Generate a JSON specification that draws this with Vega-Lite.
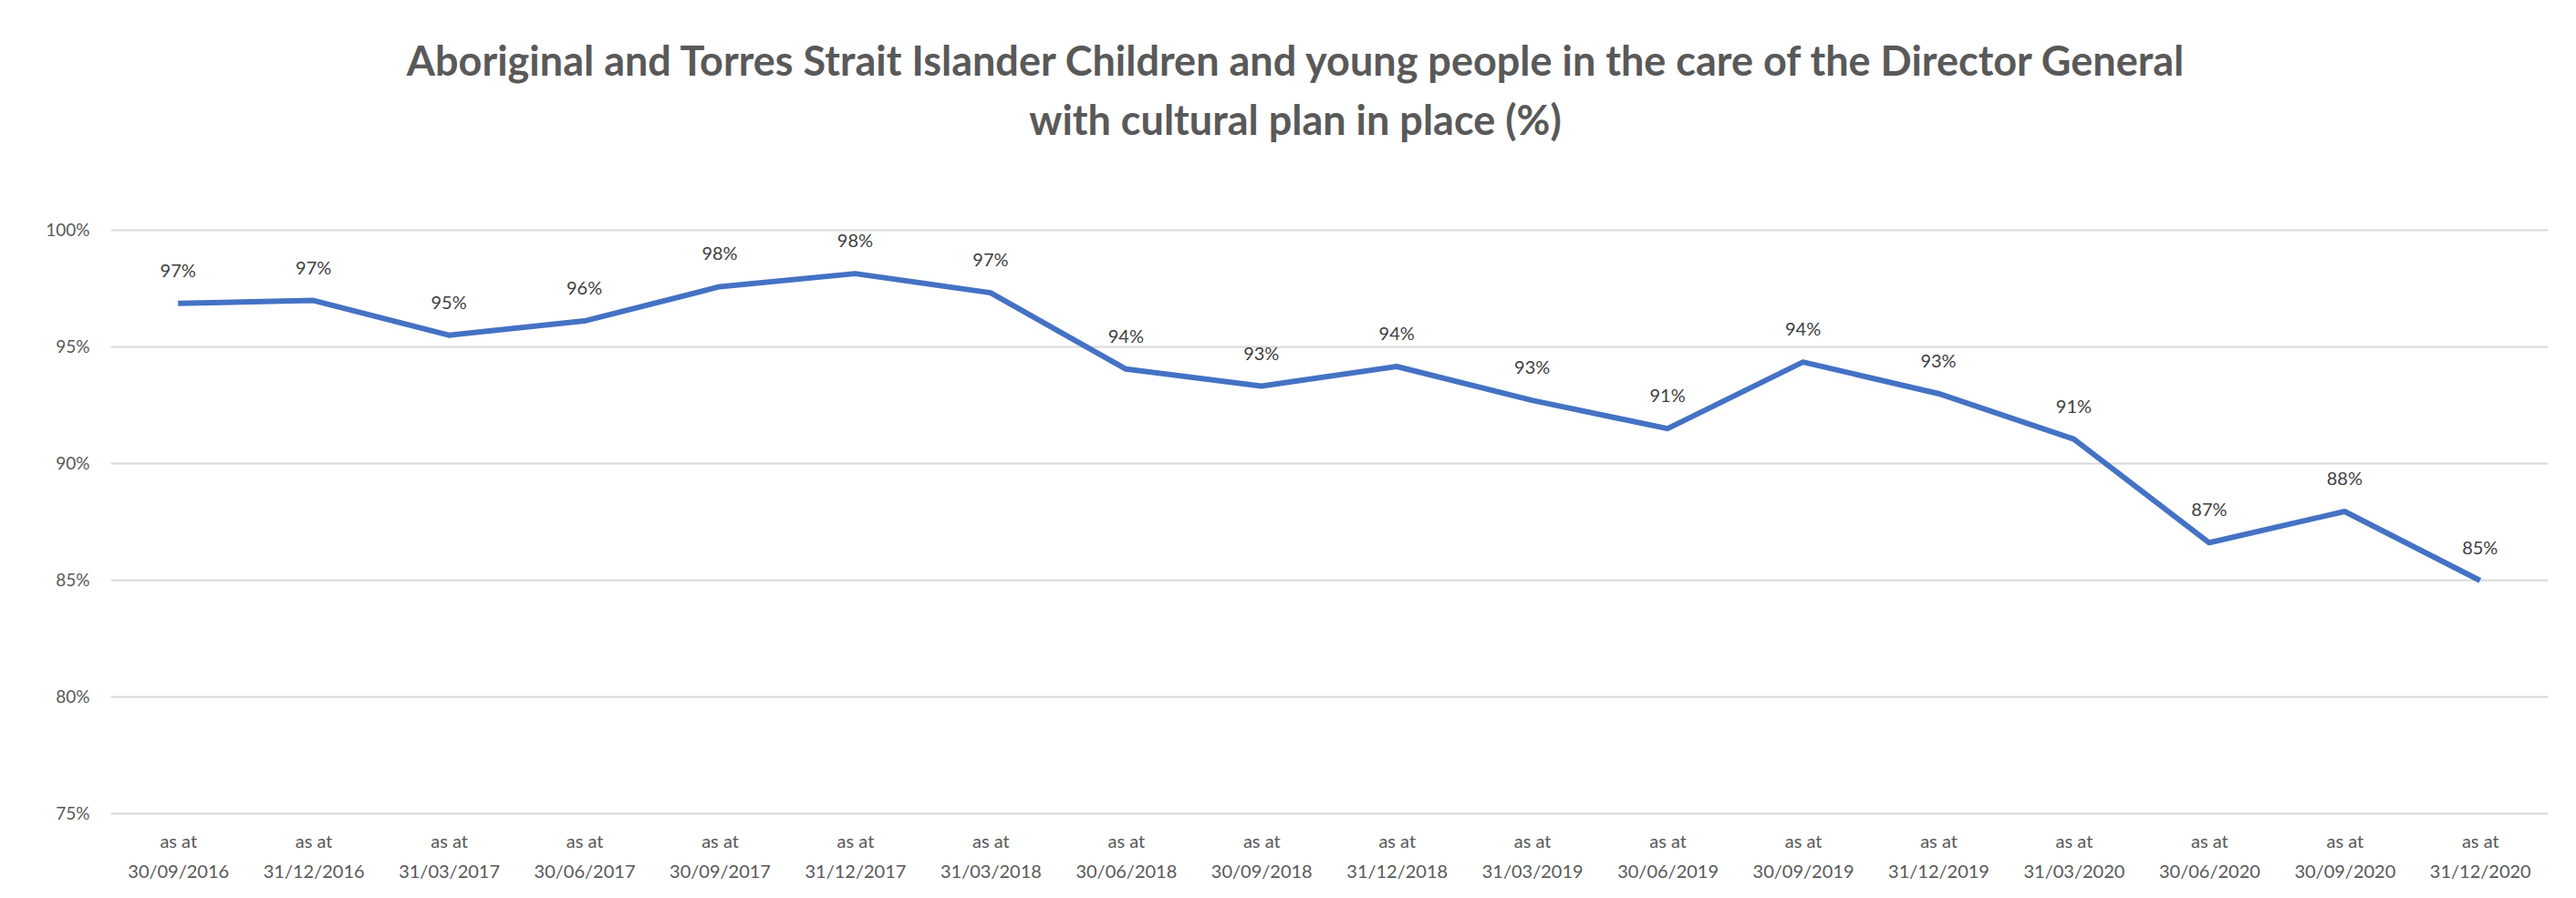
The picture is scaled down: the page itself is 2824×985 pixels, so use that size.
{
  "$schema": "https://vega.github.io/schema/vega-lite/v6.json",
  "width": 2672,
  "height": 640,
  "autosize": {"type": "none"},
  "padding": {"left": 121, "top": 252, "right": 31, "bottom": 93},
  "background": "white",
  "title": {
    "text": ["Aboriginal and Torres Strait Islander Children and young people in the care of the Director General", "with cultural plan in place (%)"],
    "font": "Lato, sans-serif",
    "fontSize": 45,
    "fontWeight": "bold",
    "color": "#595959",
    "lineHeight": 65,
    "anchor": "middle",
    "dx": -37,
    "offset": 86
  },
  "config": {
    "view": {"stroke": null},
    "font": "Lato, sans-serif"
  },
  "data": {
    "values": [
      {"date": "30/09/2016", "value": 0.9685},
      {"date": "31/12/2016", "value": 0.9697},
      {"date": "31/03/2017", "value": 0.9548},
      {"date": "30/06/2017", "value": 0.9609},
      {"date": "30/09/2017", "value": 0.9756},
      {"date": "31/12/2017", "value": 0.9812},
      {"date": "31/03/2018", "value": 0.9730},
      {"date": "30/06/2018", "value": 0.9403},
      {"date": "30/09/2018", "value": 0.9330},
      {"date": "31/12/2018", "value": 0.9414},
      {"date": "31/03/2019", "value": 0.9269},
      {"date": "30/06/2019", "value": 0.9148},
      {"date": "30/09/2019", "value": 0.9433},
      {"date": "31/12/2019", "value": 0.9298},
      {"date": "31/03/2020", "value": 0.9103},
      {"date": "30/06/2020", "value": 0.8659},
      {"date": "30/09/2020", "value": 0.8793},
      {"date": "31/12/2020", "value": 0.8497}
    ]
  },
  "encoding": {
    "x": {
      "field": "date",
      "type": "ordinal",
      "sort": null,
      "scale": {"type": "point", "padding": 0.5},
      "axis": {
        "title": null,
        "domain": false,
        "ticks": false,
        "grid": false,
        "labelAngle": 0,
        "labelExpr": "['as at', datum.value]",
        "labelFontSize": 20,
        "labelColor": "#595959",
        "labelLineHeight": 33,
        "labelPadding": 21,
        "labelBaseline": "top"
      }
    },
    "y": {
      "field": "value",
      "type": "quantitative",
      "scale": {"domain": [0.75, 1], "nice": false, "zero": false},
      "axis": {
        "title": null,
        "values": [0.75, 0.8, 0.85, 0.9, 0.95, 1],
        "format": ".0%",
        "domain": false,
        "ticks": false,
        "grid": true,
        "gridColor": "#d9d9d9",
        "gridWidth": 2,
        "labelFontSize": 19,
        "labelColor": "#595959",
        "labelPadding": 23
      }
    }
  },
  "layer": [
    {"mark": {"type": "line", "color": "#4472C4", "strokeWidth": 6, "strokeJoin": "round"}},
    {
      "mark": {"type": "text", "dy": -35, "baseline": "middle", "align": "center", "fontSize": 20, "color": "#404040"},
      "encoding": {"text": {"field": "value", "type": "quantitative", "format": ".0%"}}
    }
  ]
}
